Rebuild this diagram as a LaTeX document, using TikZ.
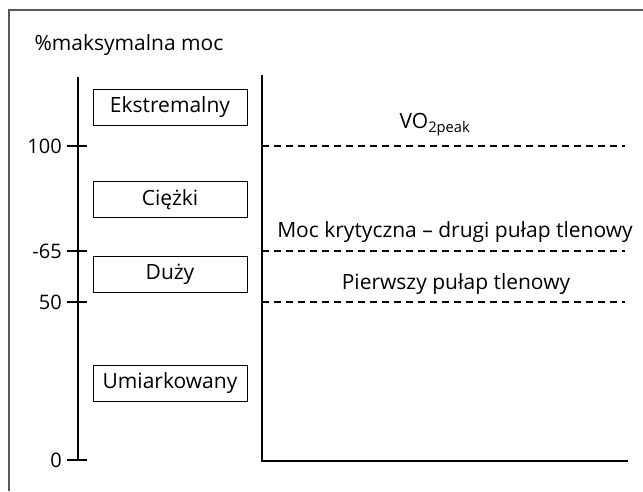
\documentclass[tikz,border=0pt]{standalone}
\usepackage{fontspec}
\setmainfont{Open Sans}
\usepackage{tikz}
\usetikzlibrary{positioning}

\begin{document}
\begin{tikzpicture}[
        x=1pt, y=-1pt,
        zonebox/.style={draw, line width=0.9pt, minimum width=154pt, minimum height=36pt, inner sep=0pt, font=\fontsize{21}{24}\selectfont},
        axisline/.style={line width=2pt},
        tickline/.style={line width=1.5pt},
        threshold/.style={line width=1.4pt, dash pattern=on 7pt off 5pt},
        ticklabel/.style={anchor=east, inner sep=0pt, font=\fontsize{20}{24}\selectfont},
        textlabel/.style={inner sep=0pt, font=\fontsize{21}{24}\selectfont}
    ]
    \useasboundingbox (0,0) rectangle (643,491);

    % ---- Outer frame (top and left edges) ----
    \draw[line width=1.8pt, gray!70!black] (9,491) -- (9,10) -- (643,10);
    \node[textlabel] (title) at (129,45) {\%maksymalna moc};

    % ---- Left axis with ticks ----
    \coordinate (ltop) at (78,77);
    \coordinate (lbot) at (78,460);
    \draw[axisline] (ltop) -- (lbot);
    \foreach \val/\ypos in {100/146, -65/251, 50/302, 0/460} {
        \draw[tickline] (67,\ypos) -- (87,\ypos);
        \node[ticklabel] (tick\ypos) at (62,\ypos) {\val};
    }

    % ---- Intensity zones ----
    \node[zonebox] (ekstr) at (170,107)   {Ekstremalny};
    \node[zonebox] (ciezki) at (170,199.5) {Ciężki};
    \node[zonebox] (duzy) at (170,274.5)  {Duży};
    \node[zonebox] (umiar) at (170,383)   {Umiarkowany};

    % ---- Right axis and thresholds ----
    \coordinate (rtop) at (262,75);
    \coordinate (rorig) at (262,461);
    \coordinate (rend) at (628,461);
    \draw[axisline] (rtop) -- (rorig) -- (rend);

    \coordinate (vo2a) at (262,146);  \coordinate (vo2b) at (625,146);
    \coordinate (mkra) at (262,251);  \coordinate (mkrb) at (625,251);
    \coordinate (ppta) at (262,302);  \coordinate (pptb) at (625,302);
    \draw[threshold] (vo2a) -- (vo2b);
    \draw[threshold] (mkra) -- (mkrb);
    \draw[threshold] (ppta) -- (pptb);

    \node[textlabel] (vo2) at (435,125) {VO\textsubscript{2peak}};
    \node[textlabel] (mkr) at (455,232) {Moc krytyczna – drugi pułap tlenowy};
    \node[textlabel] (ppt) at (456,284) {Pierwszy pułap tlenowy};
\end{tikzpicture}
\end{document}
